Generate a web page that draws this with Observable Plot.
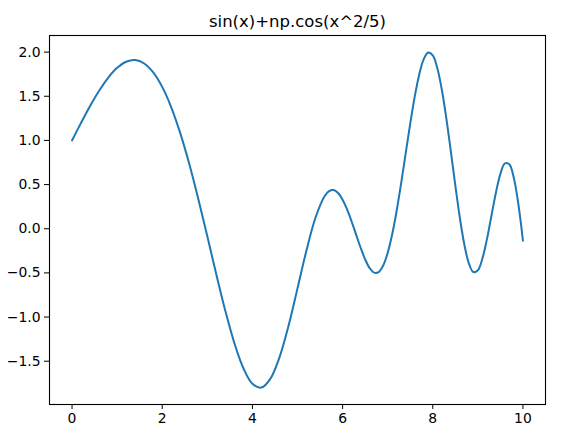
<!DOCTYPE html>
<html>
<head>
<meta charset="utf-8">
<script src="https://cdn.jsdelivr.net/npm/d3@7"></script>
<script src="https://cdn.jsdelivr.net/npm/@observablehq/plot@0.6"></script>
<style>
  html, body { margin: 0; padding: 0; background: #fff; }
  #chart svg { display: block; }
</style>
</head>
<body>
<div id="chart"></div>
<script>
const title = "sin(x)+np.cos(x^2/5)";

const xs = [0, 0.2, 0.4, 0.6, 0.8, 1.0, 1.2, 1.4, 1.6, 1.8, 2.0, 2.2, 2.4, 2.6, 2.8,
  3.0, 3.2, 3.4, 3.6, 3.8, 4.0, 4.2, 4.4, 4.6, 4.8, 5.0, 5.2, 5.4, 5.6, 5.7, 5.8, 5.9,
  6.0, 6.1, 6.2, 6.3, 6.4, 6.5, 6.6, 6.7, 6.8, 6.9, 7.0, 7.1, 7.2, 7.3, 7.4, 7.5, 7.6,
  7.7, 7.8, 7.9, 8.0, 8.1, 8.2, 8.3, 8.4, 8.5, 8.6, 8.7, 8.8, 8.9, 9.0, 9.1, 9.2, 9.3,
  9.4, 9.5, 9.6, 9.7, 9.8, 9.9, 10.0];

const ys = [1.000, 1.1986, 1.3889, 1.5620, 1.7092, 1.8215, 1.8908, 1.9096, 1.8713,
  1.7711, 1.6060, 1.3754, 1.0821, 0.7326, 0.3378, -0.0861, -0.5176, -0.9305, -1.2953,
  -1.5799, -1.7551, -1.7979, -1.6965, -1.4558, -1.1004, -0.6753, -0.2425, 0.1271,
  0.3686, 0.4263, 0.4381, 0.4044, 0.3290, 0.2183, 0.0821, -0.0671, -0.2151, -0.3461,
  -0.4451, -0.4970, -0.4903, -0.4170, -0.2734, -0.0628, 0.2065, 0.5193, 0.8551, 1.1897,
  1.4960, 1.7476, 1.9202, 1.9954, 1.9622, 1.8194, 1.5766, 1.2532, 0.8798, 0.4908,
  0.1254, -0.1789, -0.3910, -0.4900, -0.4693, -0.3380, -0.1208, 0.1437, 0.4080, 0.6219,
  0.7398, 0.7278, 0.5700, 0.2725, -0.1359];

const xTicks = [0, 2, 4, 6, 8, 10];
const yTicks = [-1.5, -1.0, -0.5, 0.0, 0.5, 1.0, 1.5, 2.0];

const data = xs.map((x, i) => ({x, y: ys[i]}));
const fmt = d => d.toFixed(1).replace("-", "\u2212");

const chart = Plot.plot({
  width: 561,
  height: 435,
  marginLeft: 49,
  marginRight: 16,
  marginTop: 35,
  marginBottom: 31,
  style: {fontFamily: "DejaVu Sans", fontSize: "13.9px", color: "#000", background: "#fff"},
  x: {domain: [-0.5, 10.5], ticks: xTicks, label: null},
  y: {domain: [-1.99, 2.188], ticks: yTicks, label: null},
  marks: [
    Plot.axisX({ticks: xTicks, tickSize: 5, tickPadding: 4, tickFormat: d => String(d), fontSize: "13.9px", stroke: "#000", strokeOpacity: 1}),
    Plot.axisY({ticks: yTicks, tickSize: 5, tickPadding: 4, tickFormat: fmt, fontSize: "13.9px", stroke: "#000", strokeOpacity: 1}),
    Plot.line(data, {x: "x", y: "y", stroke: "#1f77b4", strokeWidth: 2, curve: "catmull-rom"}),
    Plot.frame({stroke: "#000", strokeWidth: 1.1}),
    Plot.text([title], {text: d => d, frameAnchor: "top", lineAnchor: "bottom", dy: -9, fontSize: 16.5, fill: "#000"})
  ]
});
document.getElementById("chart").appendChild(chart);
</script>
</body>
</html>
